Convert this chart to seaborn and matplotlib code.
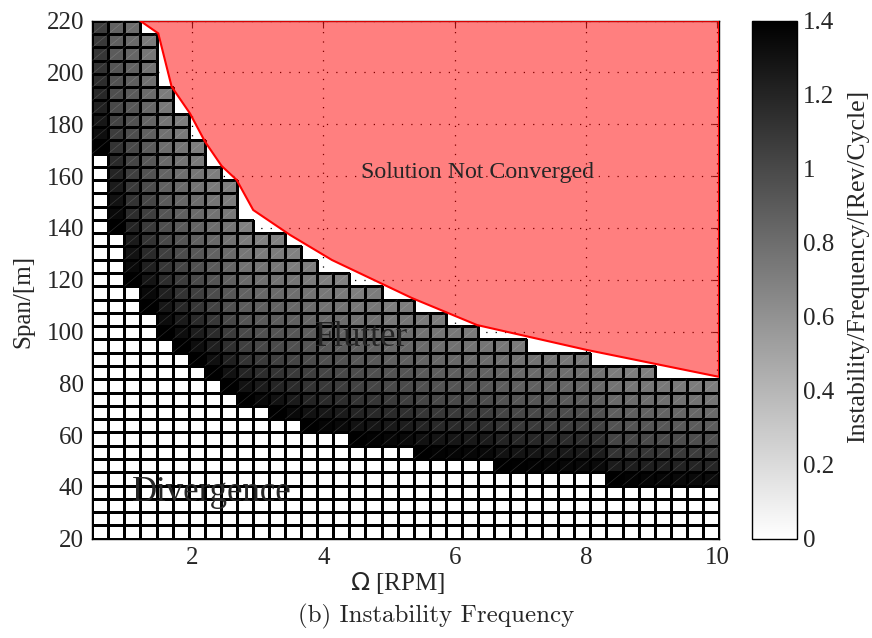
import numpy as np
import pandas as pd
import matplotlib
matplotlib.use("Agg")
import matplotlib.pyplot as plt
from matplotlib.patches import Polygon
from matplotlib.collections import LineCollection
import seaborn as sns

# ---------------------------------------------------------------------------
# Parameter grid: rotor speed nodes (rad/s -> RPM) and span nodes [m]
# ---------------------------------------------------------------------------
omega_nodes_rpm = np.linspace(0.05, 1.05, 40) * 60.0 / (2.0 * np.pi)
span_nodes_m = np.linspace(20.0, 220.0, 40)

# Number of divergence cells (zero frequency) at the bottom of each speed column
divergence_rows = [29, 23, 19, 17, 15, 14, 13, 12, 11, 10, 10, 9, 9, 8, 8, 8,
                   7, 7, 7, 7, 6, 6, 6, 6, 6, 5, 5, 5, 5, 5, 5, 5,
                   4, 4, 4, 4, 4, 4, 4]

# Flutter frequency [rev/cycle] above the divergence cells, bottom to top,
# for every speed column; cells above each list did not converge
flutter_freq = [
    [1.40, 1.32, 1.27, 1.22, 1.18, 1.15, 1.12, 1.10, 1.08, 1.06],
    [1.40, 1.35, 1.30, 1.25, 1.20, 1.17, 1.12, 1.07, 1.03, 1.00, 0.97, 0.95, 0.93, 0.90, 0.88, 0.86],
    [1.40, 1.35, 1.30, 1.25, 1.20, 1.15, 1.12, 1.08, 1.05, 1.02, 1.00, 0.97, 0.95, 0.92, 0.90, 0.88,
     0.86, 0.84, 0.82, 0.80],
    [1.40, 1.35, 1.28, 1.22, 1.17, 1.12, 1.08, 1.05, 1.02, 0.98, 0.95, 0.92, 0.90, 0.87, 0.85, 0.83,
     0.81, 0.79, 0.77, 0.75, 0.73],
    [1.40, 1.33, 1.27, 1.22, 1.15, 1.10, 1.05, 1.00, 0.97, 0.93, 0.90, 0.87, 0.85, 0.82, 0.80, 0.78,
     0.76, 0.74, 0.72],
    [1.40, 1.32, 1.25, 1.18, 1.12, 1.07, 1.02, 0.98, 0.94, 0.90, 0.87, 0.84, 0.81, 0.79, 0.77, 0.75,
     0.73, 0.71],
    [1.40, 1.32, 1.24, 1.17, 1.10, 1.05, 1.00, 0.96, 0.92, 0.88, 0.85, 0.82, 0.80, 0.77, 0.75, 0.73, 0.71],
    [1.40, 1.31, 1.23, 1.16, 1.09, 1.03, 0.98, 0.94, 0.90, 0.86, 0.83, 0.80, 0.77, 0.75, 0.73, 0.71],
    [1.40, 1.30, 1.22, 1.14, 1.07, 1.01, 0.96, 0.92, 0.88, 0.84, 0.81, 0.78, 0.76, 0.74, 0.72, 0.70],
    [1.40, 1.30, 1.20, 1.12, 1.05, 0.99, 0.94, 0.90, 0.86, 0.82, 0.78, 0.75, 0.72, 0.69],
    [1.35, 1.25, 1.15, 1.08, 1.01, 0.96, 0.91, 0.87, 0.83, 0.79, 0.76, 0.72, 0.69],
    [1.40, 1.30, 1.20, 1.12, 1.05, 0.99, 0.94, 0.90, 0.86, 0.82, 0.78, 0.75, 0.72, 0.69],
    [1.35, 1.25, 1.16, 1.08, 1.02, 0.96, 0.92, 0.87, 0.83, 0.79, 0.76, 0.72, 0.69],
    [1.40, 1.30, 1.20, 1.12, 1.05, 0.99, 0.94, 0.89, 0.85, 0.81, 0.77, 0.73, 0.70],
    [1.37, 1.27, 1.17, 1.09, 1.02, 0.96, 0.91, 0.86, 0.82, 0.78, 0.74, 0.70],
    [1.35, 1.25, 1.15, 1.07, 1.00, 0.95, 0.90, 0.85, 0.81, 0.77, 0.73, 0.69],
    [1.40, 1.30, 1.20, 1.12, 1.04, 0.98, 0.92, 0.87, 0.82, 0.78, 0.74, 0.70],
    [1.38, 1.28, 1.18, 1.10, 1.02, 0.96, 0.91, 0.86, 0.82, 0.78, 0.75, 0.72],
    [1.36, 1.26, 1.16, 1.08, 1.00, 0.94, 0.88, 0.83, 0.78, 0.74, 0.70],
    [1.34, 1.24, 1.14, 1.06, 0.99, 0.93, 0.88, 0.84, 0.80, 0.76, 0.72],
    [1.40, 1.30, 1.20, 1.10, 1.02, 0.96, 0.90, 0.85, 0.81, 0.77, 0.73],
    [1.38, 1.28, 1.18, 1.09, 1.01, 0.95, 0.89, 0.84, 0.80, 0.76, 0.72],
    [1.37, 1.27, 1.17, 1.08, 1.00, 0.94, 0.88, 0.83, 0.78, 0.74],
    [1.36, 1.26, 1.16, 1.07, 0.99, 0.93, 0.87, 0.82, 0.77, 0.73],
    [1.35, 1.25, 1.15, 1.06, 0.98, 0.92, 0.86, 0.81, 0.76],
    [1.40, 1.30, 1.20, 1.10, 1.02, 0.95, 0.89, 0.84, 0.79, 0.74],
    [1.39, 1.29, 1.19, 1.09, 1.01, 0.94, 0.88, 0.83, 0.78, 0.73],
    [1.38, 1.28, 1.18, 1.08, 1.00, 0.93, 0.87, 0.82, 0.77],
    [1.37, 1.27, 1.17, 1.07, 0.99, 0.92, 0.86, 0.81, 0.76],
    [1.36, 1.26, 1.16, 1.06, 0.98, 0.91, 0.85, 0.80, 0.75],
    [1.35, 1.25, 1.15, 1.05, 0.97, 0.90, 0.84, 0.79, 0.74],
    [1.34, 1.24, 1.14, 1.04, 0.96, 0.89, 0.83, 0.78],
    [1.40, 1.25, 1.12, 1.02, 0.95, 0.88, 0.82, 0.77, 0.72],
    [1.38, 1.24, 1.11, 1.01, 0.94, 0.87, 0.81, 0.76, 0.71],
    [1.37, 1.23, 1.10, 1.00, 0.93, 0.86, 0.80, 0.75, 0.70],
    [1.36, 1.22, 1.09, 0.99, 0.92, 0.85, 0.79, 0.74],
    [1.35, 1.21, 1.08, 0.98, 0.91, 0.84, 0.78, 0.73],
    [1.34, 1.20, 1.07, 0.97, 0.90, 0.83, 0.77, 0.72],
    [1.33, 1.19, 1.06, 0.96, 0.89, 0.82, 0.76, 0.71],
]

# Boundary of the non-converged region (RPM, span)
no_conv_omega = [1.204, 1.483, 1.687, 1.966, 2.195, 2.449, 2.678, 2.93, 3.49, 4.13,
                 5.35, 6.34, 8.01, 10.027, 10.027]
no_conv_span = [220.0, 215.1, 194.5, 184.2, 173.3, 163.9, 158.5, 146.9, 137.3, 127.6,
                112.9, 102.5, 92.9, 82.5, 220.0]

x_ticks = [2, 4, 6, 8, 10]
y_ticks = [20, 40, 60, 80, 100, 120, 140, 160, 180, 200, 220]
cbar_ticks = [0, 0.2, 0.4, 0.6, 0.8, 1.0, 1.2, 1.4]
cbar_ticklabels = ["0", "0.2", "0.4", "0.6", "0.8", "1", "1.2", "1.4"]

# ---------------------------------------------------------------------------
# Assemble the cell matrix (rows = span, columns = speed)
# ---------------------------------------------------------------------------
n_rows = len(span_nodes_m) - 1
n_cols = len(omega_nodes_rpm) - 1
freq = np.full((n_rows, n_cols), np.nan)
for c in range(n_cols):
    d = divergence_rows[c]
    vals = flutter_freq[c]
    freq[:d, c] = 0.0
    freq[d:d + len(vals), c] = vals

table = pd.DataFrame(freq[::-1], index=span_nodes_m[:-1][::-1], columns=omega_nodes_rpm[:-1])

# ---------------------------------------------------------------------------
# Figure
# ---------------------------------------------------------------------------
sns.set_style("white")
plt.rcParams["font.family"] = ["Liberation Serif", "DejaVu Serif"]
plt.rcParams["mathtext.fontset"] = "dejavusans"

fig = plt.figure(figsize=(8.72, 6.38), dpi=100)
rect = [0.1058, 0.1556, 0.7187, 0.8120]
cax = fig.add_axes([0.8624, 0.1556, 0.0516, 0.8120], label="colorbar")

# frame axes: real-valued scales, ticks and dotted grid (drawn beneath the cells)
ax = fig.add_axes(rect, label="frame")
ax.set_xlim(omega_nodes_rpm[0], omega_nodes_rpm[-1])
ax.set_ylim(span_nodes_m[0], span_nodes_m[-1])
ax.set_xticks(x_ticks)
ax.set_yticks(y_ticks)
ax.grid(True, color="black", linestyle=(0, (1, 6.5)), linewidth=0.9)
ax.tick_params(direction="in", top=True, right=True, length=5, width=0.8,
               labelsize=18, pad=6)
for s in ax.spines.values():
    s.set_color("black")
    s.set_linewidth(1.0)
ax.set_xlabel(r"$\Omega$ [RPM]", fontsize=18)
ax.set_ylabel("Span/[m]", fontsize=18)
ax.xaxis.set_label_coords(0.487, -0.061)
ax.yaxis.set_label_coords(-0.093, 0.459)

# cell layer
hm = fig.add_axes(rect, label="cells")
sns.heatmap(table, ax=hm, cmap="gray_r", vmin=0, vmax=1.4,
            mask=table.isna(), linewidths=0.9, linecolor="black",
            cbar_ax=cax, xticklabels=False, yticklabels=False)
hm.patch.set_visible(False)
hm.set_xlabel("")
hm.set_ylabel("")
hm.tick_params(left=False, bottom=False)

# cell borders only around cells that hold a value
mesh = hm.collections[0]
values = table.to_numpy()
has_value = ~np.isnan(values).ravel()
edge_rgba = np.zeros((has_value.size, 4))
edge_rgba[has_value, 3] = 1.0
mesh.set_edgecolor(edge_rgba)

# faint diagonal seam across each flutter cell (triangulated surface rendering)
rows_f, cols_f = np.nonzero(np.nan_to_num(values) > 0)
seams = [[(j, i + 1), (j + 1, i)] for i, j in zip(rows_f, cols_f)]
hm.add_collection(LineCollection(seams, colors=[(1, 1, 1, 0.16)],
                                 linewidths=0.5, zorder=3))

# non-converged region
poly = Polygon(np.column_stack([no_conv_omega, no_conv_span]), closed=True,
               facecolor=(1.0, 0.0, 0.0, 0.5), edgecolor="red", linewidth=1.5,
               transform=ax.transData, zorder=5)
hm.add_patch(poly)

hm.text(6.34, 161.3, "Solution Not Converged", transform=ax.transData,
        ha="center", va="center", fontsize=17.2, zorder=6)
hm.text(4.58, 97.6, "Flutter", transform=ax.transData,
        ha="center", va="center", fontsize=25, zorder=6)
hm.text(2.30, 37.8, "Divergence", transform=ax.transData,
        ha="center", va="center", fontsize=25, zorder=6)

# colorbar
cbar = mesh.colorbar
cbar.set_ticks(cbar_ticks)
cbar.set_ticklabels(cbar_ticklabels)
cbar.outline.set_edgecolor("black")
cbar.outline.set_linewidth(1.0)
cax.tick_params(direction="in", left=True, right=True, length=6, width=0.8,
                labelsize=18, pad=4)
cbar.set_label("Instability/Frequency/[Rev/Cycle]", fontsize=18.5)
cax.yaxis.set_label_coords(2.11, 0.526)

fig.text(0.5, 0.033, "(b) Instability Frequency", ha="center", va="center",
         fontsize=18, family="cmr10")

fig.savefig("out.png", dpi=100)
